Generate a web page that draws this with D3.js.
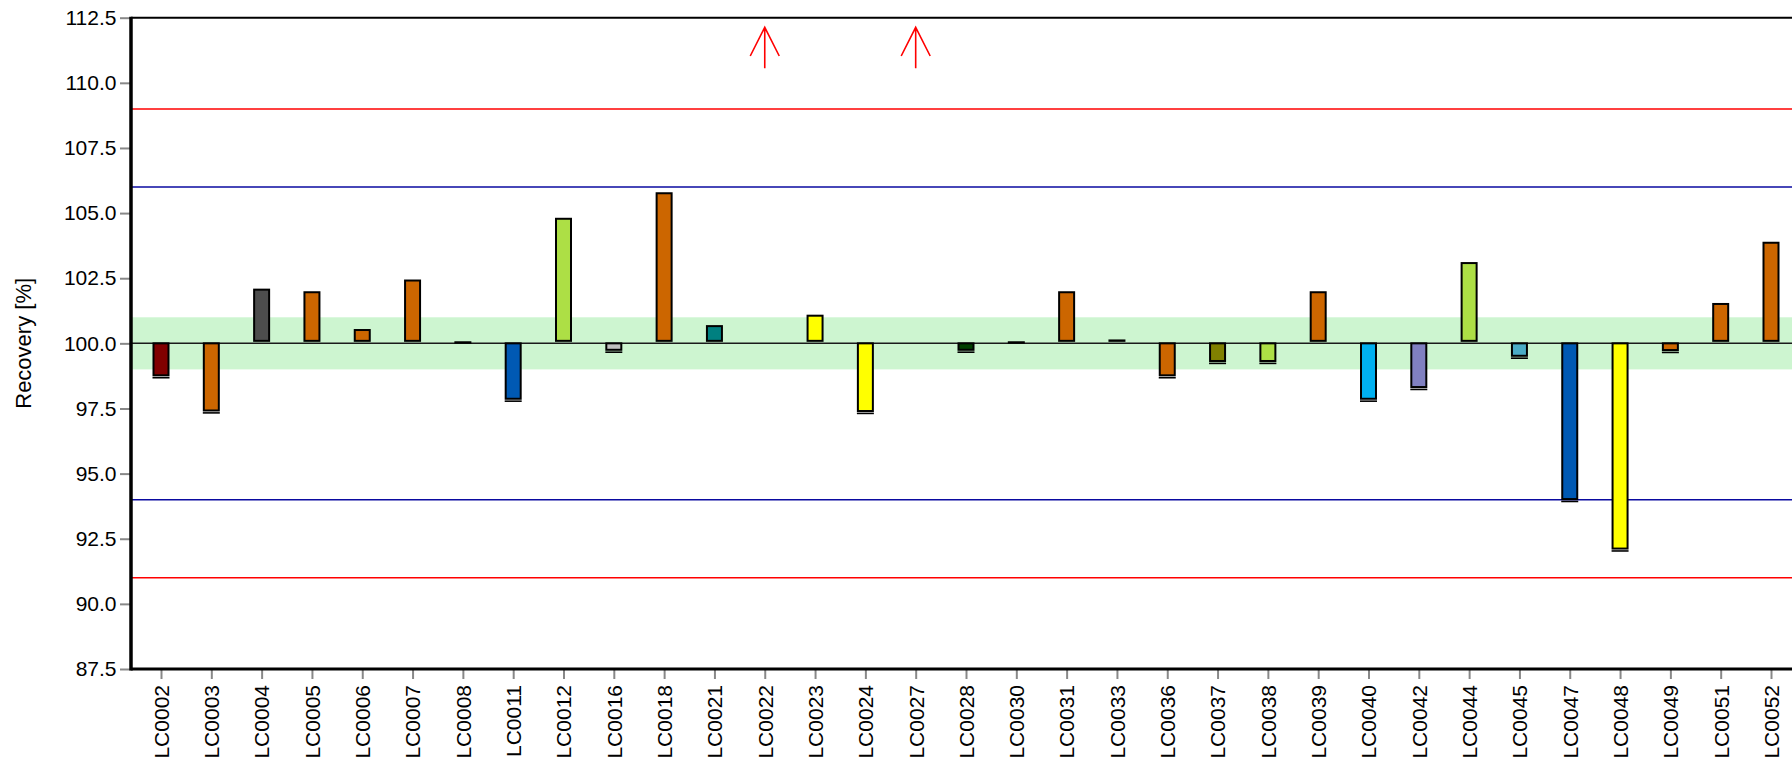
<!DOCTYPE html>
<html lang="en">
<head>
    <meta charset="UTF-8">
    <title>Recovery</title>
    <script src="https://d3js.org/d3.v7.min.js"></script>
    <style>
        body { margin: 0; background: #fff; }
        svg { display: block; font-family: "Liberation Sans", Arial, sans-serif; }
    </style>
</head>
<body>
<div id="chart"></div>
<script>
    // sample ids along the x axis
    var samples = ["LC0002", "LC0003", "LC0004", "LC0005", "LC0006", "LC0007", "LC0008", "LC0011",
        "LC0012", "LC0016", "LC0018", "LC0021", "LC0022", "LC0023", "LC0024", "LC0027", "LC0028",
        "LC0030", "LC0031", "LC0033", "LC0036", "LC0037", "LC0038", "LC0039", "LC0040", "LC0042",
        "LC0044", "LC0045", "LC0047", "LC0048", "LC0049", "LC0051", "LC0052"];

    // recovery in % (LC0022 / LC0027 are above the scale, shown as arrows)
    var recovery = [98.65, 97.3, 102.1, 102.0, 100.55, 102.45, 100.08, 97.75,
        104.82, 99.63, 105.8, 100.7, 115.0, 101.1, 97.28, 115.0, 99.63,
        100.08, 102.0, 100.15, 98.65, 99.2, 99.2, 102.0, 97.75, 98.2,
        103.12, 99.4, 93.9, 92.0, 99.62, 101.55, 103.9];

    var barColors = ["#800000", "#cc6600", "#4d4d4d", "#cc6600", "#cc6600", "#cc6600", "#808080", "#0059b3",
        "#addf45", "#c0c0c0", "#cc6600", "#008080", "#cc6600", "#ffff00", "#ffff00", "#cc6600", "#004000",
        "#808080", "#cc6600", "#1a1a1a", "#cc6600", "#808000", "#addf45", "#cc6600", "#00b0f0", "#8080c0",
        "#addf45", "#4bacc6", "#0059b3", "#ffff00", "#cc6600", "#cc6600", "#cc6600"];

    var yTicks = [87.5, 90.0, 92.5, 95.0, 97.5, 100.0, 102.5, 105.0, 107.5, 110.0, 112.5];
    var target = 100;
    var band = [99, 101];          // light green tolerance band
    var warnLimits = [94, 106];    // blue lines
    var actionLimits = [91, 109];  // red lines

    var W = 1792, H = 759;
    var plotLeft = 131, plotTop = 17.7, plotBottom = 669;

    var svg = d3.select("#chart").append("svg")
        .attr("width", W)
        .attr("height", H);

    var y = d3.scaleLinear().domain([87.5, 112.5]).range([plotBottom, plotTop]);
    var x = d3.scalePoint().domain(samples).range([161, 1771]);

    // tolerance band
    svg.append("rect")
        .attr("x", plotLeft).attr("width", W - plotLeft)
        .attr("y", y(band[1])).attr("height", y(band[0]) - y(band[1]))
        .attr("fill", "#cdf5d0");

    function hline(v, color, w) {
        svg.append("line")
            .attr("x1", plotLeft).attr("x2", W)
            .attr("y1", y(v)).attr("y2", y(v))
            .attr("stroke", color).attr("stroke-width", w);
    }
    actionLimits.forEach(v => hline(v, "#ff0000", 1.5));
    warnLimits.forEach(v => hline(v, "#0a0aa0", 1.5));
    hline(target, "#1a1a1a", 1.5);

    // axes
    var yAxis = svg.append("g")
        .attr("transform", "translate(" + plotLeft + ",0)")
        .call(d3.axisLeft(y).tickValues(yTicks).tickFormat(d3.format(".1f")).tickSize(11).tickPadding(3.5));
    yAxis.attr("font-size", 21).attr("font-family", "'Liberation Sans', Arial, sans-serif");
    yAxis.select(".domain").remove();
    yAxis.selectAll(".tick line").attr("stroke", "#888").attr("stroke-width", 2);
    yAxis.selectAll(".tick text").attr("fill", "#000");

    var xAxis = svg.append("g")
        .attr("transform", "translate(0," + plotBottom + ")")
        .call(d3.axisBottom(x).tickSize(10));
    xAxis.attr("font-size", 21).attr("font-family", "'Liberation Sans', Arial, sans-serif");
    xAxis.select(".domain").remove();
    xAxis.selectAll(".tick line").attr("stroke", "#888").attr("stroke-width", 2);
    xAxis.selectAll(".tick text")
        .attr("fill", "#000")
        .attr("transform", "rotate(-90)")
        .attr("text-anchor", "end")
        .attr("x", -16).attr("y", 0).attr("dy", "0.35em");

    // frame: top border, thick left and bottom axis lines
    svg.append("line").attr("x1", plotLeft).attr("x2", W).attr("y1", plotTop).attr("y2", plotTop)
        .attr("stroke", "#000").attr("stroke-width", 2);
    svg.append("line").attr("x1", plotLeft).attr("x2", plotLeft).attr("y1", plotTop - 1).attr("y2", plotBottom + 1.5)
        .attr("stroke", "#000").attr("stroke-width", 3.5);
    svg.append("line").attr("x1", plotLeft).attr("x2", W).attr("y1", plotBottom).attr("y2", plotBottom)
        .attr("stroke", "#000").attr("stroke-width", 2.8);

    // bars
    var data = samples.map((s, i) => ({ id: s, v: recovery[i], c: barColors[i] }));
    var inRange = data.filter(d => d.v <= y.domain()[1] && d.v >= y.domain()[0]);
    var barW = 15, sw = 2;
    var y0 = y(target);

    svg.selectAll(".bar")
        .data(inRange)
        .enter().append("rect")
        .attr("class", "bar")
        .attr("x", d => x(d.id) - barW / 2)
        .attr("width", barW)
        .attr("y", d => d.v >= target ? y(d.v) + sw / 2 : y0)
        .attr("height", d => d.v >= target
            ? Math.max(y0 - 2.5 - (y(d.v) + sw / 2), 0.4)
            : Math.max(y(d.v) - 3.2 - y0, 0.4))
        .attr("fill", d => d.c)
        .attr("stroke", "#000")
        .attr("stroke-width", sw);

    // extra dark edge at the end of the negative bars
    svg.selectAll(".bar-end")
        .data(inRange.filter(d => d.v < target))
        .enter().append("line")
        .attr("x1", d => x(d.id) - barW / 2 - sw / 2)
        .attr("x2", d => x(d.id) + barW / 2 + sw / 2)
        .attr("y1", d => y(d.v) - 0.8)
        .attr("y2", d => y(d.v) - 0.8)
        .attr("stroke", "#000").attr("stroke-width", 1.6);

    // arrows for values above the scale
    var over = data.filter(d => d.v > y.domain()[1]);
    svg.selectAll(".over")
        .data(over)
        .enter().append("path")
        .attr("d", d => {
            var cx = x(d.id), tip = y(y.domain()[1]) + 9.6;
            return "M" + cx + "," + (tip + 41) + "L" + cx + "," + tip +
                "M" + (cx - 14.5) + "," + (tip + 28.7) + "L" + cx + "," + tip + "L" + (cx + 14.5) + "," + (tip + 28.7);
        })
        .attr("fill", "none").attr("stroke", "#ff0000").attr("stroke-width", 1.6);

    // y axis title
    svg.append("text")
        .attr("transform", "translate(30.5," + ((plotTop + plotBottom) / 2) + ") rotate(-90)")
        .attr("text-anchor", "middle")
        .attr("font-size", 22)
        .attr("fill", "#000")
        .text("Recovery [%]");
</script>
</body>
</html>
